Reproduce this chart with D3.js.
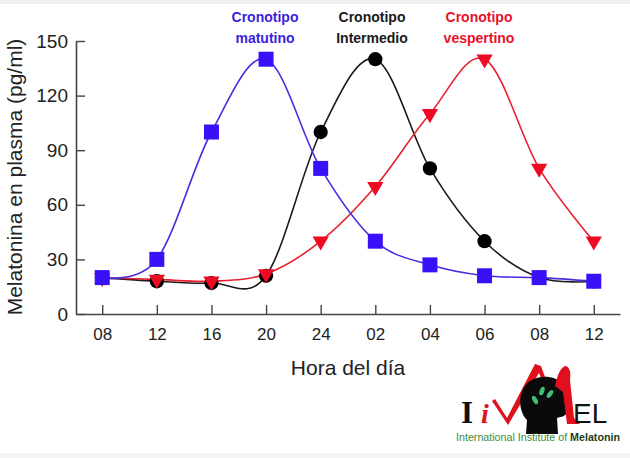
<!DOCTYPE html>
<html>
<head>
<meta charset="utf-8">
<script src="https://cdn.jsdelivr.net/npm/d3@7"></script>
<style>
  body { margin: 0; background: #fff; }
  svg { display: block; font-family: Arial, "Liberation Sans", sans-serif; }
</style>
</head>
<body>
<svg id="chart" width="630" height="458"></svg>
<script>
// hora del dia (eje x) y valores de melatonina (pg/ml)
const hours = ['08', '12', '16', '20', '24', '02', '04', '06', '08', '12']
const matutino = [20, 30, 100, 140, 80, 40, 27, 21, 20, 18]
const intermedio = [20, 18, 17, 21, 100, 140, 80, 40, 20, 18]
const vespertino = [20, 19, 18, 22, 40, 70, 110, 140, 80, 40]
const yTicks = [0, 30, 60, 90, 120, 150]

{
  let svg = d3.select('#chart')
  // bandas grises arriba y abajo de la captura
  svg.append('rect').attr('x', 0).attr('y', 0).attr('width', 630).attr('height', 4).style('fill', '#efefef')
  svg.append('rect').attr('x', 0).attr('y', 453).attr('width', 630).attr('height', 5).style('fill', '#f4f4f4')

  let x = d3.scalePoint().domain(d3.range(hours.length)).range([76, 620]).padding(0.48)
  let y = d3.scaleLinear().domain([0, 150]).range([314, 41])

  let xAxis = svg.append('g')
    .attr('transform', 'translate(0,314)')
    .call(d3.axisBottom(x).tickSize(-9).tickSizeOuter(0).tickPadding(14).tickFormat(i => hours[i]))
  let yAxis = svg.append('g')
    .attr('transform', 'translate(76,0)')
    .call(d3.axisLeft(y).tickValues(yTicks).tickSize(-9).tickSizeOuter(0).tickPadding(8))
  ;[xAxis, yAxis].forEach(ax => {
    ax.select('.domain').style('stroke', '#444').style('stroke-width', 1.6)
    ax.selectAll('.tick line').style('stroke', '#444').style('stroke-width', 1.4)
    ax.selectAll('.tick text').style('fill', '#222').style('font-family', 'Arial, "Liberation Sans", sans-serif')
  })
  xAxis.selectAll('.tick text').style('font-size', '17px')
  yAxis.selectAll('.tick text').style('font-size', '19px')

  svg.append('text')
    .attr('transform', 'translate(22,177) rotate(-90)')
    .attr('text-anchor', 'middle')
    .style('font-size', '21px').style('fill', '#222')
    .text('Melatonina en plasma (pg/ml)')
  svg.append('text')
    .attr('x', 348).attr('y', 375)
    .attr('text-anchor', 'middle')
    .style('font-size', '21px').style('fill', '#222')
    .text('Hora del día')

  let series = [
    { name: 'intermedio', values: intermedio, line: '#1a1a1a', fill: '#000', shape: 'circle' },
    { name: 'vespertino', values: vespertino, line: '#e8202e', fill: '#ee0a22', shape: 'triangle' },
    { name: 'matutino', values: matutino, line: '#4a2ee0', fill: '#3a10f8', shape: 'square' }
  ]
  let line = d3.line().x((d, i) => x(i)).y(d => y(d)).curve(d3.curveCatmullRom.alpha(0))

  series.forEach(s => {
    svg.append('path')
      .attr('d', line(s.values))
      .style('fill', 'none')
      .style('stroke', s.line)
      .style('stroke-width', 1.6)
  })
  series.forEach(s => {
    let g = svg.append('g').attr('class', 'marks-' + s.name)
    let sym = s.shape === 'circle' ? d3.symbol(d3.symbolCircle, 160)
      : s.shape === 'square' ? d3.symbol(d3.symbolSquare, 225)
      : d3.symbol(d3.symbolTriangle, 115)
    g.selectAll('path')
      .data(s.values)
      .enter()
      .append('path')
      .attr('d', sym)
      .attr('transform', (d, i) => `translate(${x(i)},${y(d)})` + (s.shape === 'triangle' ? ' rotate(180)' : ''))
      .style('fill', s.fill)
  })

  // etiquetas de cronotipo
  let labels = [
    { lines: ['Cronotipo', 'matutino'], cx: 265, color: '#3a1ee0' },
    { lines: ['Cronotipo', 'Intermedio'], cx: 372, color: '#1a1a1a' },
    { lines: ['Cronotipo', 'vespertino'], cx: 479, color: '#e8102a' }
  ]
  labels.forEach(l => {
    l.lines.forEach((t, k) => {
      svg.append('text')
        .attr('x', l.cx).attr('y', 22 + k * 21)
        .attr('text-anchor', 'middle')
        .style('font-size', '14px').style('font-weight', 'bold')
        .style('fill', l.color)
        .text(t)
    })
  })

  // logo IiMEL
  let logo = svg.append('g').attr('class', 'logo')
  logo.append('text').attr('x', 461).attr('y', 423)
    .style('font-family', '"Liberation Serif", "DejaVu Serif", serif').style('font-weight', 'bold')
    .style('font-size', '31px').style('fill', '#111').text('I')
  logo.append('text').attr('x', 481).attr('y', 423)
    .style('font-family', '"Liberation Serif", serif').style('font-weight', 'bold').style('font-style', 'italic')
    .style('font-size', '28px').style('fill', '#e0101e').text('i')
  logo.append('path')
    .attr('d', 'M492,401 L495,399 L507,418 L535,364 L541,366 L549,388 L546,390 L539,373 L508,425 Z')
    .style('fill', '#e0101e')
  // cabeza
  logo.append('path')
    .attr('d', 'M526,434 L527,420 C517,410 517,386 534,379 C551,372 568,382 568,397 L572,405 L567,407 L567,413 C565,417 559,417 557,418 L558,434 Z')
    .style('fill', '#0a0a0a')
  ;[[535, 400, -30], [542, 391, 20], [550, 394, 35]].forEach(p => {
    logo.append('ellipse').attr('cx', 0).attr('cy', 0).attr('rx', 2.3).attr('ry', 4.5)
      .attr('transform', `translate(${p[0]},${p[1]}) rotate(${p[2]})`)
      .style('fill', '#3fbf7a')
  })
  logo.append('path')
    .attr('d', 'M555,386 C558,372 562,366 566,366 C570,368 571,372 570,380 L574,418 L580,424 L567,424 L563,392 Z')
    .style('fill', '#e0101e')
  logo.append('text').attr('x', 573).attr('y', 423)
    .style('font-size', '28px').style('fill', '#111').text('EL')
  let t = logo.append('text').attr('x', 456).attr('y', 441)
    .attr('textLength', 164).attr('lengthAdjust', 'spacingAndGlyphs')
    .style('font-size', '11px')
  t.append('tspan').style('fill', '#3f8a3a').text('International Institute of ')
  t.append('tspan').style('fill', '#1d3d1a').style('font-weight', 'bold').text('Melatonin')
}
</script>
</body>
</html>
